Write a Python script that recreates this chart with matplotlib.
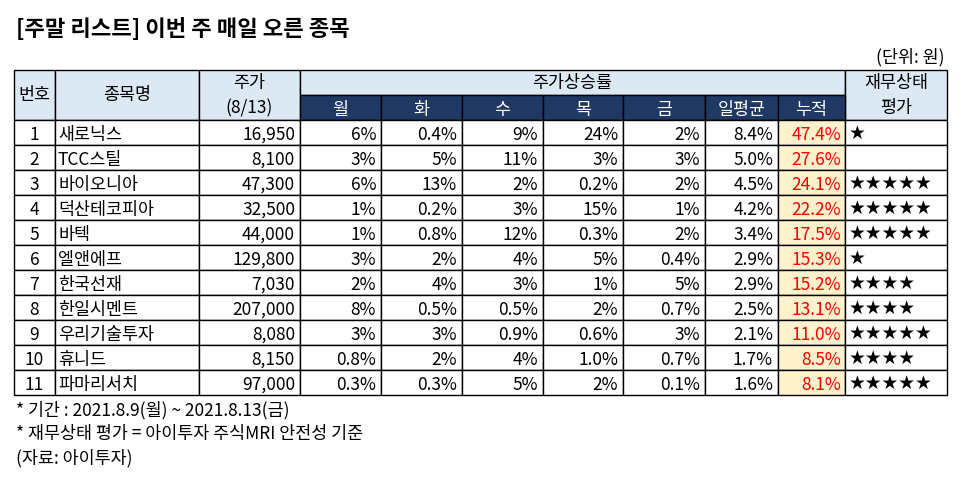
import matplotlib
matplotlib.use("Agg")
import matplotlib.pyplot as plt
from matplotlib.patches import Rectangle

plt.rcParams["font.family"] = ["Noto Sans CJK JP", "Noto Sans CJK KR", "Noto Sans CJK SC", "DejaVu Sans"]

nums = [str(i) for i in range(1, 12)]
names = ["새로닉스", "TCC스틸", "바이오니아", "덕산테코피아", "바텍", "엘앤에프", "한국선재",
         "한일시멘트", "우리기술투자", "휴니드", "파마리서치"]
prices = ["16,950", "8,100", "47,300", "32,500", "44,000", "129,800", "7,030",
          "207,000", "8,080", "8,150", "97,000"]
mon = ["6%", "3%", "6%", "1%", "1%", "3%", "2%", "8%", "3%", "0.8%", "0.3%"]
tue = ["0.4%", "5%", "13%", "0.2%", "0.8%", "2%", "4%", "0.5%", "3%", "2%", "0.3%"]
wed = ["9%", "11%", "2%", "3%", "12%", "4%", "3%", "0.5%", "0.9%", "4%", "5%"]
thu = ["24%", "3%", "0.2%", "15%", "0.3%", "5%", "1%", "2%", "0.6%", "1.0%", "2%"]
fri = ["2%", "3%", "2%", "1%", "2%", "0.4%", "5%", "0.7%", "3%", "0.7%", "0.1%"]
avg = ["8.4%", "5.0%", "4.5%", "4.2%", "3.4%", "2.9%", "2.9%", "2.5%", "2.1%", "1.7%", "1.6%"]
cum = ["47.4%", "27.6%", "24.1%", "22.2%", "17.5%", "15.3%", "15.2%", "13.1%", "11.0%", "8.5%", "8.1%"]
stars = [1, 0, 5, 5, 5, 1, 4, 4, 5, 4, 5]
days = ["월", "화", "수", "목", "금", "일평균", "누적"]

W, H = 968, 486
fig = plt.figure(figsize=(W / 100, H / 100), dpi=100)
ax = fig.add_axes([0, 0, 1, 1])
ax.set_xlim(0, W)
ax.set_ylim(H, 0)
ax.axis("off")

xs = [14, 55, 199, 300, 381, 462, 543, 623, 705, 778, 845, 947]
top, mid, hb = 70, 95, 120
rh = 25
LB = "#dce9f5"
NV = "#1f3864"
PE = "#fff2cc"
dy = 2

def rect(x0, y0, x1, y1, fc):
    ax.add_patch(Rectangle((x0, y0), x1 - x0, y1 - y0, fc=fc, ec="black", lw=1))

def t(x, y, s, **kw):
    kw.setdefault("fontsize", fs)
    kw.setdefault("va", "center")
    ax.text(x, y + dy, s, **kw)

fs = 12.5
rect(xs[0], top, xs[1], hb, LB)
rect(xs[1], top, xs[2], hb, LB)
rect(xs[2], top, xs[3], hb, LB)
rect(xs[3], top, xs[10], mid, LB)
rect(xs[10], top, xs[11], hb, LB)
for i in range(7):
    rect(xs[3 + i], mid, xs[4 + i], hb, NV)
    t((xs[3 + i] + xs[4 + i]) / 2, (mid + hb) / 2, days[i], color="white", ha="center")
t((xs[0] + xs[1]) / 2, 93, "번호", ha="center")
t((xs[1] + xs[2]) / 2, 93, "종목명", ha="center")
t((xs[2] + xs[3]) / 2, 81, "주가", ha="center")
t((xs[2] + xs[3]) / 2, 106, "(8/13)", ha="center")
t((xs[3] + xs[10]) / 2, 81, "주가상승률", ha="center")
t((xs[10] + xs[11]) / 2, 81, "재무상태", ha="center")
t((xs[10] + xs[11]) / 2, 106, "평가", ha="center")

cols = [mon, tue, wed, thu, fri, avg]
for r in range(11):
    y0 = hb + r * rh
    y1 = y0 + rh
    yc = (y0 + y1) / 2
    for c in range(11):
        rect(xs[c], y0, xs[c + 1], y1, PE if c == 9 else "white")
    t((xs[0] + xs[1]) / 2, yc, nums[r], ha="center")
    t(xs[1] + 3, yc, names[r], ha="left")
    t(xs[3] - 5, yc, prices[r], ha="right")
    for k, col in enumerate(cols):
        t(xs[4 + k] - 5, yc, col[r], ha="right")
    t(xs[10] - 4, yc, cum[r], ha="right", color="#ff0000")
    ax.text(xs[10] + 4, yc + 1, "★" * stars[r], ha="left", va="center", fontsize=13.5,
            family="DejaVu Sans")

ax.text(16, 30, "[주말 리스트] 이번 주 매일 오른 종목", ha="left", va="center",
        fontsize=16, fontweight="bold")
t(945, 55, "(단위: 원)", ha="right")
t(16, 408, "* 기간 : 2021.8.9(월) ~ 2021.8.13(금)", ha="left")
t(16, 432, "* 재무상태 평가 = 아이투자 주식MRI 안전성 기준", ha="left")
t(16, 456, "(자료: 아이투자)", ha="left")

fig.savefig("out.png", dpi=100)
